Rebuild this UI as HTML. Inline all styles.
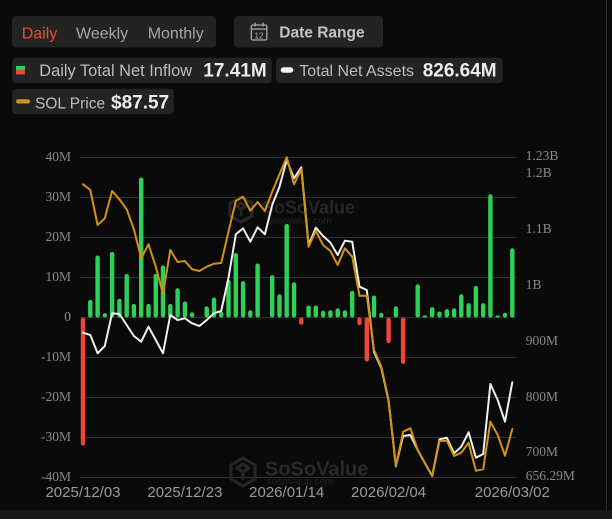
<!DOCTYPE html>
<html>
<head>
<meta charset="utf-8">
<style>
  html,body{margin:0;padding:0;background:#0a0a0a;}
  body{width:612px;height:519px;overflow:hidden;position:relative;}
  svg{position:absolute;left:0;top:0;}
  .sans{font-family:"Liberation Sans",Arial,sans-serif;}
  .serif{font-family:"Liberation Serif","Times New Roman",serif;}
</style>
</head>
<body>
<svg width="612" height="519" viewBox="0 0 612 519" xmlns="http://www.w3.org/2000/svg">
  <rect x="0" y="0" width="612" height="519" fill="#0a0a0a"/>
  <!-- bottom band -->
  <rect x="0" y="510" width="612" height="9" fill="#171717"/>
  <!-- right border -->
  <line x1="606.5" y1="0" x2="606.5" y2="510" stroke="#2e2e2e" stroke-width="1"/>

  <!-- Header buttons -->
  <rect x="12" y="16" width="204" height="31.5" rx="4" fill="#232323"/>
  <text class="sans" x="21.7" y="38.3" font-size="16" fill="#e8502d">Daily</text>
  <text class="sans" x="76" y="38.3" font-size="16" fill="#a6a6a6">Weekly</text>
  <text class="sans" x="147.7" y="38.3" font-size="16" fill="#a6a6a6">Monthly</text>

  <rect x="234" y="16" width="149" height="31.5" rx="4" fill="#232323"/>
  <!-- calendar icon -->
  <g stroke="#a8a8a8" fill="none" stroke-width="1.3">
    <rect x="251.3" y="25" width="15.5" height="15" rx="1.5"/>
    <line x1="251.3" y1="29" x2="266.8" y2="29"/>
    <line x1="255" y1="22.5" x2="255" y2="26.5"/>
    <line x1="263" y1="22.5" x2="263" y2="26.5"/>
  </g>
  <text class="sans" x="259" y="38.6" font-size="8" fill="#a8a8a8" text-anchor="middle">12</text>
  <text class="sans" x="279.3" y="37.5" font-size="15.5" font-weight="bold" fill="#c4c4c4">Date Range</text>

  <!-- Legend row 1 -->
  <rect x="12.3" y="57.7" width="259.4" height="25.6" rx="4" fill="#232323"/>
  <rect x="16" y="66" width="9" height="4.2" fill="#2fd05a"/>
  <rect x="16" y="70.2" width="9" height="4.2" fill="#f0443a"/>
  <text class="sans" x="39.3" y="76" font-size="16.4" fill="#bdbdbd">Daily Total Net Inflow</text>
  <text class="sans" x="203.3" y="76.7" font-size="19" font-weight="bold" fill="#ececec">17.41M</text>

  <rect x="276" y="57.7" width="226.7" height="25.6" rx="4" fill="#232323"/>
  <rect x="280.7" y="67.3" width="12.6" height="5.4" rx="2.7" fill="#f2f2f2"/>
  <text class="sans" x="299.3" y="76" font-size="16" fill="#bdbdbd">Total Net Assets</text>
  <text class="sans" x="422.7" y="76.7" font-size="19" font-weight="bold" fill="#ececec">826.64M</text>

  <!-- Legend row 2 -->
  <rect x="12.3" y="88.7" width="161.4" height="25.6" rx="4" fill="#232323"/>
  <rect x="16" y="99.3" width="14" height="4.2" rx="2.1" fill="#d39214"/>
  <text class="sans" x="35" y="108.3" font-size="15.5" fill="#bdbdbd">SOL Price</text>
  <text class="sans" x="111" y="108.7" font-size="19" font-weight="bold" fill="#ececec">$87.57</text>

  <!-- Gridlines -->
  <g stroke="#303030" stroke-width="1">
    <line x1="80" y1="157.5" x2="516" y2="157.5"/>
    <line x1="80" y1="197.5" x2="516" y2="197.5"/>
    <line x1="80" y1="237.5" x2="516" y2="237.5"/>
    <line x1="80" y1="277.5" x2="516" y2="277.5"/>
    <line x1="80" y1="317.5" x2="516" y2="317.5"/>
    <line x1="80" y1="357.5" x2="516" y2="357.5"/>
    <line x1="80" y1="397.5" x2="516" y2="397.5"/>
    <line x1="80" y1="437.5" x2="516" y2="437.5"/>
    <line x1="80" y1="477.5" x2="516" y2="477.5"/>
  </g>

  <!-- Left axis labels -->
  <g class="serif" font-size="13.5" fill="#8a8a8a" text-anchor="end">
    <text x="71" y="161.2">40M</text>
    <text x="71" y="201.2">30M</text>
    <text x="71" y="241.2">20M</text>
    <text x="71" y="281.2">10M</text>
    <text x="71" y="321.2">0</text>
    <text x="71" y="361.2">-10M</text>
    <text x="71" y="401.2">-20M</text>
    <text x="71" y="441.2">-30M</text>
    <text x="71" y="481.2">-40M</text>
  </g>
  <!-- Right axis labels -->
  <g class="serif" font-size="13.5" fill="#8a8a8a">
    <text x="525.7" y="160.2">1.23B</text>
    <text x="525.7" y="176.8">1.2B</text>
    <text x="525.7" y="232.8">1.1B</text>
    <text x="525.7" y="288.8">1B</text>
    <text x="525.7" y="345.2">900M</text>
    <text x="525.7" y="401.2">800M</text>
    <text x="525.7" y="456.2">700M</text>
    <text x="525.7" y="480.2">656.29M</text>
  </g>
  <!-- X labels -->
  <g class="sans" font-size="15" fill="#9a9a9a" text-anchor="middle">
    <text x="83" y="497.2">2025/12/03</text>
    <text x="184.9" y="497.2">2025/12/23</text>
    <text x="286.7" y="497.2">2026/01/14</text>
    <text x="388.6" y="497.2">2026/02/04</text>
    <text x="512.3" y="497.2">2026/03/02</text>
  </g>

  <!-- Watermarks -->
  <g fill="none" stroke="#262626" stroke-width="3" stroke-linejoin="round">
    <polygon points="241,197 252,203 252,216 241,222 230,216 230,203"/>
    <path d="M236,206 L241,203 L246,206 L241,209 Z M241,209 L241,216"/>
    <polygon points="243,458 255,465 255,479 243,486 231,479 231,465"/>
    <path d="M237,468 L243,464 L249,468 L243,472 Z M243,472 L243,480"/>
  </g>
  <text class="sans" x="262" y="213.5" font-size="18" font-weight="bold" fill="#262626">SoSoValue</text>
  <text class="sans" x="268" y="223.5" font-size="9.5" fill="#222222">sosovalue.com</text>
  <text class="sans" x="265" y="475.5" font-size="20" font-weight="bold" fill="#292929">SoSoValue</text>
  <text class="sans" x="266.7" y="484.5" font-size="10" fill="#232323">sosovalue.com</text>

  <!-- Bars -->
  <g>
    <rect x="80.8" y="317.5" width="4.4" height="128" rx="2.2" fill="#f0443a"/>
    <rect x="88.1" y="299.9" width="4.4" height="17.6" rx="2.2" fill="#2fd05a"/>
    <rect x="95.4" y="255.5" width="4.4" height="62" rx="2.2" fill="#2fd05a"/>
    <rect x="102.6" y="313.1" width="4.4" height="4.4" rx="2.2" fill="#2fd05a"/>
    <rect x="109.9" y="251.9" width="4.4" height="65.6" rx="2.2" fill="#2fd05a"/>
    <rect x="117.2" y="298.7" width="4.4" height="18.8" rx="2.2" fill="#2fd05a"/>
    <rect x="124.5" y="273.9" width="4.4" height="43.6" rx="2.2" fill="#2fd05a"/>
    <rect x="131.7" y="303.9" width="4.4" height="13.6" rx="2.2" fill="#2fd05a"/>
    <rect x="139" y="177.5" width="4.4" height="140" rx="2.2" fill="#2fd05a"/>
    <rect x="146.3" y="303.9" width="4.4" height="13.6" rx="2.2" fill="#2fd05a"/>
    <rect x="153.6" y="273.9" width="4.4" height="43.6" rx="2.2" fill="#2fd05a"/>
    <rect x="160.8" y="265.5" width="4.4" height="52" rx="2.2" fill="#2fd05a"/>
    <rect x="168.1" y="303.9" width="4.4" height="13.6" rx="2.2" fill="#2fd05a"/>
    <rect x="175.4" y="288.3" width="4.4" height="29.2" rx="2.2" fill="#2fd05a"/>
    <rect x="182.7" y="301.5" width="4.4" height="16" rx="2.2" fill="#2fd05a"/>
    <rect x="189.9" y="312.3" width="4.4" height="5.2" rx="2.2" fill="#2fd05a"/>
    <rect x="204.5" y="306.3" width="4.4" height="11.2" rx="2.2" fill="#2fd05a"/>
    <rect x="211.8" y="297.5" width="4.4" height="20" rx="2.2" fill="#2fd05a"/>
    <rect x="219" y="311.9" width="4.4" height="5.6" rx="2.2" fill="#2fd05a"/>
    <rect x="226.3" y="279.9" width="4.4" height="37.6" rx="2.2" fill="#2fd05a"/>
    <rect x="233.6" y="253.1" width="4.4" height="64.4" rx="2.2" fill="#2fd05a"/>
    <rect x="240.9" y="281.1" width="4.4" height="36.4" rx="2.2" fill="#2fd05a"/>
    <rect x="248.1" y="310.3" width="4.4" height="7.2" rx="2.2" fill="#2fd05a"/>
    <rect x="255.4" y="263.5" width="4.4" height="54" rx="2.2" fill="#2fd05a"/>
    <rect x="270" y="275.1" width="4.4" height="42.4" rx="2.2" fill="#2fd05a"/>
    <rect x="277.3" y="294.3" width="4.4" height="23.2" rx="2.2" fill="#2fd05a"/>
    <rect x="284.5" y="223.9" width="4.4" height="93.6" rx="2.2" fill="#2fd05a"/>
    <rect x="291.8" y="282.3" width="4.4" height="35.2" rx="2.2" fill="#2fd05a"/>
    <rect x="299.1" y="317.5" width="4.4" height="7.2" rx="2.2" fill="#f0443a"/>
    <rect x="306.4" y="305.5" width="4.4" height="12" rx="2.2" fill="#2fd05a"/>
    <rect x="313.6" y="305.5" width="4.4" height="12" rx="2.2" fill="#2fd05a"/>
    <rect x="320.9" y="310.7" width="4.4" height="6.8" rx="2.2" fill="#2fd05a"/>
    <rect x="328.2" y="310.3" width="4.4" height="7.2" rx="2.2" fill="#2fd05a"/>
    <rect x="335.5" y="308.3" width="4.4" height="9.2" rx="2.2" fill="#2fd05a"/>
    <rect x="342.7" y="310.3" width="4.4" height="7.2" rx="2.2" fill="#2fd05a"/>
    <rect x="350" y="290.7" width="4.4" height="26.8" rx="2.2" fill="#2fd05a"/>
    <rect x="357.3" y="317.5" width="4.4" height="7.6" rx="2.2" fill="#f0443a"/>
    <rect x="364.6" y="317.5" width="4.4" height="44" rx="2.2" fill="#f0443a"/>
    <rect x="371.8" y="295.5" width="4.4" height="22" rx="2.2" fill="#2fd05a"/>
    <rect x="379.1" y="312.7" width="4.4" height="4.8" rx="2.2" fill="#2fd05a"/>
    <rect x="386.4" y="317.5" width="4.4" height="25.6" rx="2.2" fill="#f0443a"/>
    <rect x="393.7" y="306.3" width="4.4" height="11.2" rx="2.2" fill="#2fd05a"/>
    <rect x="400.9" y="317.5" width="4.4" height="46.4" rx="2.2" fill="#f0443a"/>
    <rect x="415.5" y="284.3" width="4.4" height="33.2" rx="2.2" fill="#2fd05a"/>
    <rect x="422.8" y="315.5" width="4.4" height="2" rx="1" fill="#2fd05a"/>
    <rect x="430" y="307.1" width="4.4" height="10.4" rx="2.2" fill="#2fd05a"/>
    <rect x="437.3" y="311.5" width="4.4" height="6" rx="2.2" fill="#2fd05a"/>
    <rect x="444.6" y="309.1" width="4.4" height="8.4" rx="2.2" fill="#2fd05a"/>
    <rect x="451.9" y="308.3" width="4.4" height="9.2" rx="2.2" fill="#2fd05a"/>
    <rect x="459.1" y="294.3" width="4.4" height="23.2" rx="2.2" fill="#2fd05a"/>
    <rect x="466.4" y="303.1" width="4.4" height="14.4" rx="2.2" fill="#2fd05a"/>
    <rect x="473.7" y="285.9" width="4.4" height="31.6" rx="2.2" fill="#2fd05a"/>
    <rect x="481" y="303.1" width="4.4" height="14.4" rx="2.2" fill="#2fd05a"/>
    <rect x="488.2" y="194.3" width="4.4" height="123.2" rx="2.2" fill="#2fd05a"/>
    <rect x="495.5" y="315.5" width="4.4" height="2" rx="1" fill="#2fd05a"/>
    <rect x="502.8" y="312.7" width="4.4" height="4.8" rx="2.2" fill="#2fd05a"/>
    <rect x="510.1" y="248.3" width="4.4" height="69.2" rx="2.2" fill="#2fd05a"/>
  </g>

  <!-- Total Net Assets (white) -->
  <polyline fill="none" stroke="#f0f0f0" stroke-width="2" stroke-linejoin="round" stroke-linecap="round"
    points="83,332.7 90.3,335 97.6,353.3 104.8,346 112.1,313.3 119.4,314 126.7,325 133.9,336 141.2,341.7 148.5,326.7 155.8,340 163,353.3 170.3,315 177.6,320 184.9,318.3 192.1,323.3 199.4,326 206.7,320 214,313.3 221.2,311 228.5,278 235.8,234.3 243.1,228.3 250.3,241.7 257.6,227.3 264.9,234.3 272.2,205 279.5,186.7 286.7,160 294,178.3 301.3,167.3 308.6,245 315.8,227.7 323.1,236 330.4,242.7 337.7,255 344.9,240.7 352.2,241.7 359.5,286.7 366.8,290 374,352 381.3,368 388.6,401 395.9,466 403.1,436 410.4,435 417.7,450 425,463.3 432.2,476 439.5,439.3 446.8,437.7 454.1,453.3 461.3,446.7 468.6,432.3 475.9,457.7 483.2,454 490.4,384 497.7,400 505,421.7 512.3,382.3"/>

  <!-- SOL Price (gold) -->
  <polyline fill="none" stroke="#d39214" stroke-width="2" stroke-linejoin="round" stroke-linecap="round"
    points="83,184.3 90.3,190 97.6,225 104.8,218.3 112.1,191 119.4,199.3 126.7,209.3 133.9,229.3 141.2,258.3 148.5,244.3 155.8,266.7 163,294 170.3,250 177.6,262 184.9,261 192.1,269.3 199.4,271 206.7,266.7 214,263.7 221.2,263 228.5,231.7 235.8,201 243.1,196.7 250.3,210.7 257.6,202 264.9,211 272.2,191.7 279.5,174.3 286.7,157.3 294,184.3 301.3,169.3 308.6,246.7 315.8,231 323.1,245 330.4,251 337.7,265 344.9,248.3 352.2,256.7 359.5,295.7 366.8,295.7 374,350 381.3,366.7 388.6,400 395.9,466.7 403.1,431.7 410.4,428.3 417.7,450 425,463.3 432.2,476 439.5,441 446.8,440.7 454.1,456 461.3,452.7 468.6,442.7 475.9,470.7 483.2,469.3 490.4,421.7 497.7,435 505,455.7 512.3,429"/>
</svg>
</body>
</html>
